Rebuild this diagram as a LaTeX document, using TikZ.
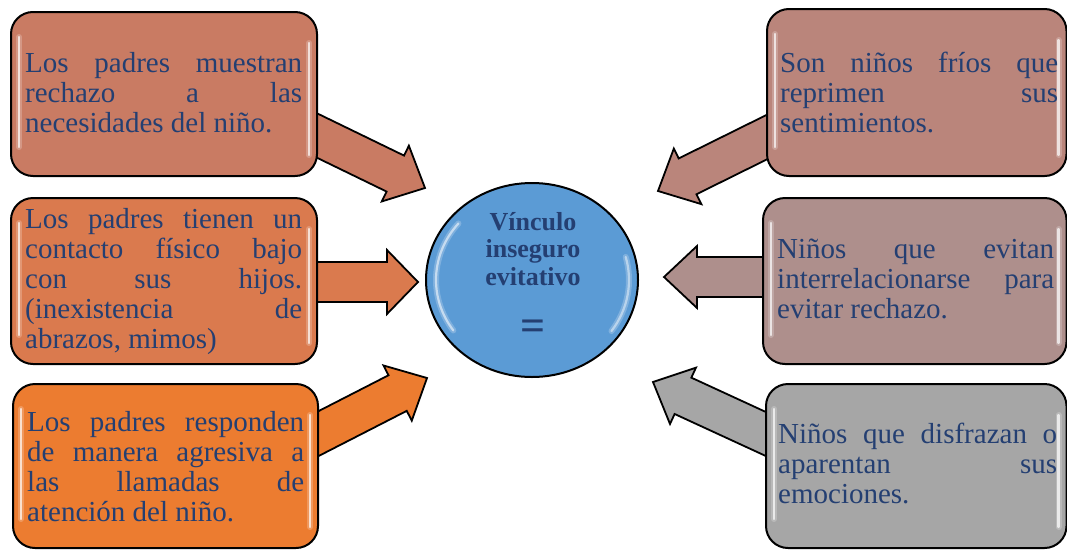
\documentclass[tikz,border=0pt]{standalone}
\usepackage{fontspec}
\setmainfont{Liberation Serif}
\usetikzlibrary{calc,shapes.geometric}
\tolerance=10000
\hyphenpenalty=10000
\hbadness=10000
\definecolor{txt}{HTML}{243F72}
\definecolor{cTL}{HTML}{C97B63}
\definecolor{cML}{HTML}{DA7A4E}
\definecolor{cBL}{HTML}{EC7C30}
\definecolor{cTR}{HTML}{BA857B}
\definecolor{cMR}{HTML}{AE8F8C}
\definecolor{cBR}{HTML}{A6A6A6}
\definecolor{cC}{HTML}{5B9BD5}
\tikzset{
  box/.style={draw=black, line width=2pt, rounded corners=22pt, fill=#1, inner sep=0pt, anchor=north west},
  boxtext/.style={anchor=north west, inner sep=0pt, text width=#1, align=justify, text=txt, font=\fontsize{29}{30}\selectfont},
  arrowbody/.style={draw=black, line width=1.8pt, fill=#1, line join=miter},
  hl/.style={draw=white, line width=2.2pt, line cap=round, opacity=0.7},
  hlsoft/.style={draw=white, line width=6pt, line cap=round, opacity=0.22},
}
\newcommand\fatarrow[6]{%
  \path let \p1=($(#2)-(#1)$) in \pgfextra{%
    \pgfmathsetmacro\arang{atan2(\y1,\x1)}%
    \pgfmathsetmacro\arlen{veclen(\x1,\y1)}%
    \xdef\arang{\arang}\xdef\arlen{\arlen}};
  \pgfmathsetmacro\arbase{\arlen-#5}%
  \draw[arrowbody=#6, shift={(#1)}, rotate=\arang]
    (0pt,#3pt) -- (\arbase pt,#3pt) -- (\arbase pt,#4pt) -- (\arlen pt,0pt)
    -- (\arbase pt,-#4pt) -- (\arbase pt,-#3pt) -- (0pt,-#3pt) -- cycle;
}
\newcommand\glossbox[1]{%
  \draw[hlsoft] ($(#1.north west)+(9pt,-26pt)$) -- ($(#1.south west)+(9pt,30pt)$);
  \draw[hlsoft] ($(#1.north east)+(-9pt,-32pt)$) -- ($(#1.south east)+(-9pt,22pt)$);
  \draw[hl] ($(#1.north west)+(9pt,-26pt)$) -- ($(#1.south west)+(9pt,30pt)$);
  \draw[hl] ($(#1.north east)+(-9pt,-32pt)$) -- ($(#1.south east)+(-9pt,22pt)$);
}
\begin{document}
\begin{tikzpicture}[x=1pt,y=-1pt]
\fill[white] (0,0) rectangle (1067,549);
\useasboundingbox (0,0) rectangle (1067,549);

% arrow end points
\coordinate (s1) at (298,126.3);  \coordinate (e1) at (425,188);
\coordinate (s2) at (298,282);    \coordinate (e2) at (418,282);
\coordinate (s3) at (299,443.6);  \coordinate (e3) at (427,378);
\coordinate (s4) at (784,128.6);  \coordinate (e4) at (658,191);
\coordinate (s5) at (780,277);    \coordinate (e5) at (664,277);
\coordinate (s6) at (783,441.9);  \coordinate (e6) at (653,382);

\fatarrow{s1}{e1}{20}{31}{33}{cTL}
\fatarrow{s2}{e2}{20}{32}{31}{cML}
\fatarrow{s3}{e3}{20}{31}{33}{cBL}
\fatarrow{s4}{e4}{20}{31}{33}{cTR}
\fatarrow{s5}{e5}{20}{31}{33}{cMR}
\fatarrow{s6}{e6}{20}{31}{33}{cBR}

% boxes
\node[box=cTL, minimum width=306pt, minimum height=164pt] (b1) at (10,11) {};
\node[box=cML, minimum width=306pt, minimum height=166pt] (b2) at (10,197) {};
\node[box=cBL, minimum width=305pt, minimum height=164pt] (b3) at (12,383) {};
\node[box=cTR, minimum width=299.5pt, minimum height=167pt] (b4) at (766,8) {};
\node[box=cMR, minimum width=303.5pt, minimum height=166pt] (b5) at (762,197) {};
\node[box=cBR, minimum width=300.5pt, minimum height=164pt] (b6) at (765,383) {};
\glossbox{b1}\glossbox{b2}\glossbox{b3}\glossbox{b4}\glossbox{b5}\glossbox{b6}

% texts
\node[boxtext=277pt] (t1) at (25,51.5) {\strut Los padres muestran\linebreak rechazo a las\linebreak necesidades del niño.};
\node[boxtext=277pt] (t2) at (25,207) {\strut Los padres tienen un\linebreak contacto físico bajo\linebreak con sus hijos.\linebreak (inexistencia de\linebreak abrazos, mimos)};
\node[boxtext=277pt] (t3) at (27,410) {\strut Los padres responden\linebreak de manera agresiva a\linebreak las llamadas de\linebreak atención del niño.};
\node[boxtext=278pt] (t4) at (780,51) {\strut Son niños fríos que\linebreak reprimen sus\linebreak sentimientos.};
\node[boxtext=277pt] (t5) at (777,237) {\strut Niños que evitan\linebreak interrelacionarse para\linebreak evitar rechazo.};
\node[boxtext=279pt] (t6) at (778,422) {\strut Niños que disfrazan o\linebreak aparentan sus\linebreak emociones.};

% centre
\node[ellipse, draw=black, line width=2pt, fill=cC, minimum width=212pt, minimum height=194pt, inner sep=0pt] (c) at (532,280) {};
\draw[hlsoft] ($(c.center)+(140:96pt and 88pt)$) arc[start angle=140, end angle=215, x radius=96pt, y radius=88pt];
\draw[hl, opacity=0.55] ($(c.center)+(140:96pt and 88pt)$) arc[start angle=140, end angle=215, x radius=96pt, y radius=88pt];
\draw[hlsoft] ($(c.center)+(-35:97pt and 89pt)$) arc[start angle=-35, end angle=15, x radius=97pt, y radius=89pt];
\draw[hl, opacity=0.45] ($(c.center)+(-35:97pt and 89pt)$) arc[start angle=-35, end angle=15, x radius=97pt, y radius=89pt];
\node[anchor=north, inner sep=0pt, text width=160pt, align=center, text=txt, font=\bfseries\fontsize{26}{27.5}\selectfont] (ct) at (533,210.75) {\strut Vínculo\\inseguro\\evitativo};
\node[inner sep=0pt, text=txt, font=\bfseries\fontsize{44}{44}\selectfont] (eq) at (533,330) {=};
\end{tikzpicture}
\end{document}
